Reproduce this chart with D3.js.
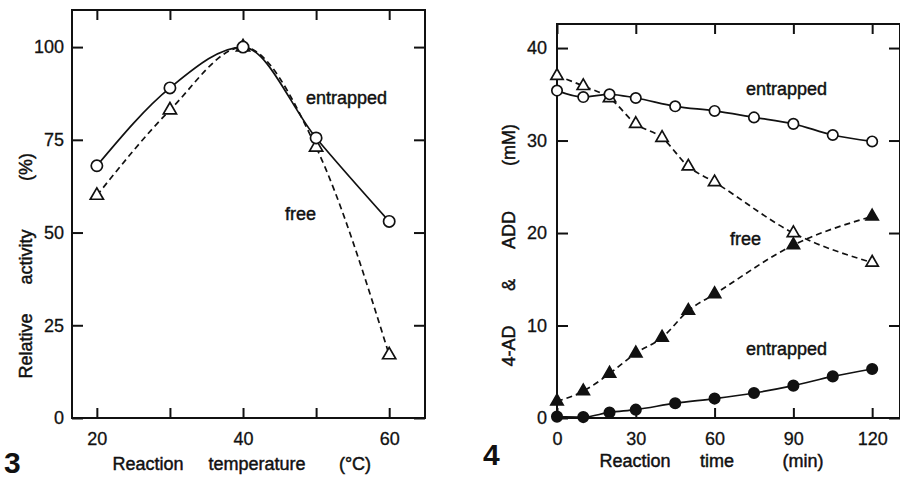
<!DOCTYPE html>
<html>
<head>
<meta charset="utf-8">
<script src="https://cdn.jsdelivr.net/npm/d3@7"></script>
<style>
  body { margin: 0; background: #fff; }
  svg { display: block; font-family: "Liberation Sans", Arial, sans-serif; }
  .tick text { font-size: 18px; fill: #111; stroke: #111; stroke-width: 0.3px; }
  .lbl { font-size: 18px; fill: #111; stroke: #111; stroke-width: 0.45px; }
</style>
</head>
<body>
<svg id="chart" width="900" height="479"></svg>
<script>
// Fig 3: relative activity vs reaction temperature
const tempC = [20, 30, 40, 50, 60];
const activityEntrapped = [68, 89, 100, 75.5, 53];
const activityFree = [60, 83, 100, 73, 17];
const tempTicks = [20, 40, 60];
const tempMinorTicks = [20, 30, 40, 50, 60];
const activityTicks = [0, 25, 50, 75, 100];

// Fig 4: 4-AD & ADD vs reaction time
const timeEntrapped = [0, 10, 20, 30, 45, 60, 75, 90, 105, 120];
const adEntrapped = [35.4, 34.7, 35.0, 34.6, 33.7, 33.2, 32.5, 31.8, 30.6, 29.9];
const addEntrapped = [0.15, 0.1, 0.6, 0.9, 1.6, 2.1, 2.7, 3.5, 4.5, 5.3];
const timeFree = [0, 10, 20, 30, 40, 50, 60, 90, 120];
const adFree = [37.0, 35.9, 34.6, 31.8, 30.3, 27.2, 25.5, 20.0, 16.8];
const addFree = [1.8, 2.9, 4.8, 7.0, 8.7, 11.6, 13.4, 18.7, 21.8];
const timeTicks = [0, 30, 60, 90, 120];
const concTicks = [0, 10, 20, 30, 40];

const svg = d3.select('#chart');
const ink = '#111';

// draws frame + inward ticks for one panel
function frame(g, x, y, xTicks, xMinor, yTicks, yPad) {
    const [x0, x1] = x.range();
    const [y0, y1] = y.range();
    g.append('rect')
        .attr('x', x0).attr('y', y1).attr('width', x1 - x0).attr('height', y0 - y1)
        .attr('fill', 'none').attr('stroke', ink).attr('stroke-width', 2);

    const bottom = g.append('g').attr('transform', `translate(0,${y0})`)
        .call(d3.axisBottom(x).tickValues(xMinor).tickSize(-10).tickPadding(14).tickFormat(d => xTicks.includes(d) ? d : ''));
    const top = g.append('g').attr('transform', `translate(0,${y1})`)
        .call(d3.axisTop(x).tickValues(xMinor).tickSize(-10).tickFormat(''));
    const left = g.append('g').attr('transform', `translate(${x0},0)`)
        .call(d3.axisLeft(y).tickValues(yTicks).tickSize(-11).tickPadding(yPad));
    const right = g.append('g').attr('transform', `translate(${x1},0)`)
        .call(d3.axisRight(y).tickValues(yTicks).tickSize(-11).tickFormat(''));
    [bottom, top, left, right].forEach(a => {
        a.select('.domain').remove();
        a.selectAll('line').attr('stroke', ink).attr('stroke-width', 2);
    });
}

function curve(g, x, y, xs, ys, dashed) {
    const pts = xs.map((d, i) => [d, ys[i]]);
    g.append('path')
        .datum(pts)
        .attr('fill', 'none')
        .attr('stroke', ink)
        .attr('stroke-width', 1.7)
        .attr('stroke-dasharray', dashed ? '6,4' : null)
        .attr('d', d3.line().x(d => x(d[0])).y(d => y(d[1])).curve(d3.curveMonotoneX));
    return pts;
}

function markers(g, x, y, pts, shape, filled, size) {
    const sym = d3.symbol().type(shape === 'circle' ? d3.symbolCircle : d3.symbolTriangle).size(size);
    g.selectAll(null).data(pts).join('path')
        .attr('transform', d => `translate(${x(d[0])},${y(d[1])})`)
        .attr('d', sym)
        .attr('fill', filled ? ink : '#fff')
        .attr('stroke', ink)
        .attr('stroke-width', 1.7);
}

function label(g, x, y, text, anchor = 'start') {
    g.append('text').attr('class', 'lbl').attr('x', x).attr('y', y)
        .attr('text-anchor', anchor).text(text);
}

function vlabel(g, x, y, text) {
    g.append('text').attr('class', 'lbl')
        .attr('transform', `translate(${x},${y}) rotate(-90)`)
        .attr('text-anchor', 'middle').text(text);
}

// ---- Panel 3 ----
const g3 = svg.append('g');
const x3 = d3.scaleLinear().domain([16.6, 64.9]).range([72, 425]);
const y3 = d3.scaleLinear().domain([0, 110]).range([418, 10]);
frame(g3, x3, y3, tempTicks, tempMinorTicks, activityTicks, 8);

const pE3 = curve(g3, x3, y3, tempC, activityEntrapped, false);
const pF3 = curve(g3, x3, y3, tempC, activityFree, true);
markers(g3, x3, y3, pF3, 'triangle', false, 75);
markers(g3, x3, y3, pE3, 'circle', false, 100);

label(g3, 306, 104, 'entrapped');
label(g3, 285, 220, 'free');
label(g3, 148, 470, 'Reaction', 'middle');
label(g3, 257, 470, 'temperature', 'middle');
label(g3, 355, 470, '(°C)', 'middle');
vlabel(g3, 32, 346, 'Relative');
vlabel(g3, 32, 257, 'activity');
vlabel(g3, 32, 167, '(%)');
g3.append('text').attr('x', 4).attr('y', 473)
    .attr('font-size', 30).attr('font-weight', 'bold').attr('fill', ink).text('3');

// ---- Panel 4 ----
const g4 = svg.append('g');
const x4 = d3.scaleLinear().domain([0, 130.6]).range([557, 900]);
const y4 = d3.scaleLinear().domain([0, 42.6]).range([418, 24]);
frame(g4, x4, y4, timeTicks, timeTicks, concTicks, 10);

const pAE = curve(g4, x4, y4, timeEntrapped, adEntrapped, false);
const pDE = curve(g4, x4, y4, timeEntrapped, addEntrapped, false);
const pAF = curve(g4, x4, y4, timeFree, adFree, true);
const pDF = curve(g4, x4, y4, timeFree, addFree, true);
markers(g4, x4, y4, pAF, 'triangle', false, 65);
markers(g4, x4, y4, pDF, 'triangle', true, 65);
markers(g4, x4, y4, pAE, 'circle', false, 85);
markers(g4, x4, y4, pDE, 'circle', true, 85);

label(g4, 746, 95, 'entrapped');
label(g4, 730, 245, 'free');
label(g4, 746, 355, 'entrapped');
label(g4, 635, 467, 'Reaction', 'middle');
label(g4, 717, 467, 'time', 'middle');
label(g4, 803, 467, '(min)', 'middle');
vlabel(g4, 515, 346, '4-AD');
vlabel(g4, 515, 285, '&');
vlabel(g4, 515, 230, 'ADD');
vlabel(g4, 515, 145, '(mM)');
g4.append('text').attr('x', 483).attr('y', 465)
    .attr('font-size', 30).attr('font-weight', 'bold').attr('fill', ink).text('4');
</script>
</body>
</html>
